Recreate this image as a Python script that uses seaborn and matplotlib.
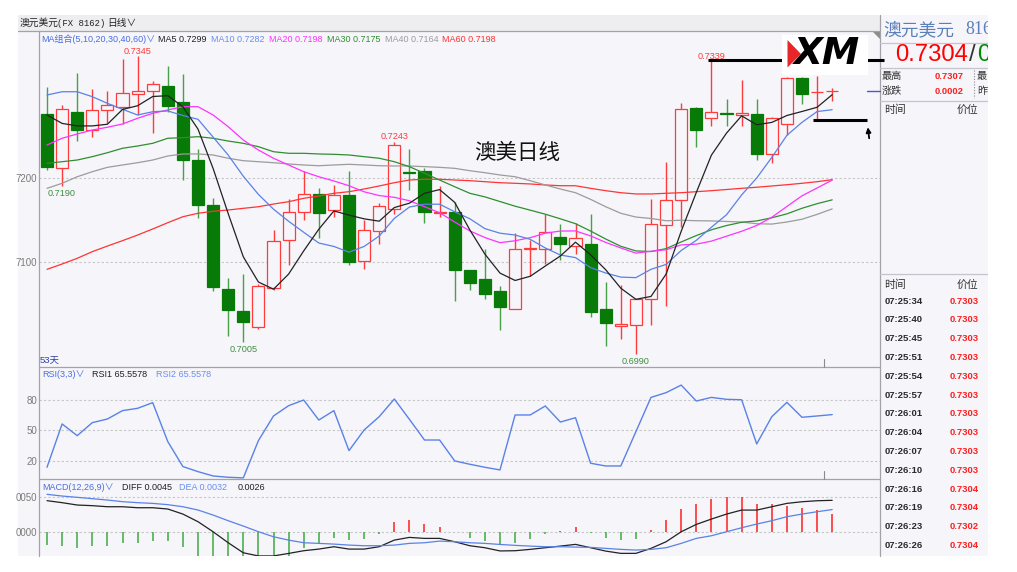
import numpy as np
import pandas as pd
import matplotlib
matplotlib.use("Agg")
import matplotlib.pyplot as plt
from matplotlib.patches import Rectangle, Polygon
import seaborn as sns

# daily AUD/USD candles (53 bars)
opens = [0.7276, 0.7212, 0.7279, 0.7257, 0.7281, 0.7284, 0.7300, 0.7304, 0.7309, 0.7290,
         0.7221, 0.7168, 0.7068, 0.7042, 0.7023, 0.7069, 0.7126, 0.7159, 0.7181, 0.7162,
         0.7180, 0.7101, 0.7137, 0.7163, 0.7207, 0.7208, 0.7158, 0.7160, 0.7090, 0.7080,
         0.7065, 0.7044, 0.7116, 0.7115, 0.7130, 0.7119, 0.7121, 0.7044, 0.7024, 0.7025,
         0.7056, 0.7144, 0.7174, 0.7283, 0.7271, 0.7277, 0.7275, 0.7276, 0.7229, 0.7264,
         0.7319, 0.7302, 0.7303]
highs = [0.7308, 0.7287, 0.7325, 0.7306, 0.7303, 0.7342, 0.7345, 0.7315, 0.7333, 0.7324,
         0.7234, 0.7176, 0.7081, 0.7086, 0.7074, 0.7138, 0.7175, 0.7208, 0.7188, 0.7192,
         0.7208, 0.7150, 0.7170, 0.7243, 0.7235, 0.7212, 0.7190, 0.7171, 0.7090, 0.7115,
         0.7072, 0.7135, 0.7126, 0.7157, 0.7145, 0.7146, 0.7157, 0.7076, 0.7073, 0.7056,
         0.7175, 0.7219, 0.7289, 0.7284, 0.7339, 0.7294, 0.7317, 0.7294, 0.7273, 0.7320,
         0.7320, 0.7321, 0.7307]
lows = [0.7209, 0.7190, 0.7244, 0.7249, 0.7265, 0.7264, 0.7275, 0.7253, 0.7279, 0.7198,
        0.7152, 0.7066, 0.7012, 0.7005, 0.7020, 0.7067, 0.7096, 0.7150, 0.7129, 0.7153,
        0.7096, 0.7092, 0.7121, 0.7157, 0.7186, 0.7147, 0.7153, 0.7054, 0.7067, 0.7056,
        0.7019, 0.7044, 0.7083, 0.7098, 0.7102, 0.7110, 0.7035, 0.7000, 0.7008, 0.6990,
        0.7025, 0.7048, 0.7142, 0.7237, 0.7262, 0.7262, 0.7262, 0.7222, 0.7218, 0.7251,
        0.7288, 0.7270, 0.7292]
closes = [0.7213, 0.7282, 0.7257, 0.7281, 0.7287, 0.7301, 0.7304, 0.7312, 0.7286, 0.7221,
          0.7168, 0.7070, 0.7043, 0.7029, 0.7071, 0.7125, 0.7160, 0.7181, 0.7158, 0.7180,
          0.7100, 0.7138, 0.7167, 0.7239, 0.7206, 0.7159, 0.7160, 0.7091, 0.7075, 0.7062,
          0.7046, 0.7116, 0.7116, 0.7136, 0.7122, 0.7128, 0.7041, 0.7027, 0.7026, 0.7056,
          0.7145, 0.7174, 0.7282, 0.7257, 0.7278, 0.7276, 0.7277, 0.7229, 0.7271, 0.7319,
          0.7300, 0.7302, 0.7304]

# moving-average values at the start of the window (history before bar 1 is off screen)
ma5_head = [0.7275, 0.7265, 0.7262, 0.7262]
ma10_head = [0.72988, 0.73027, 0.73027, 0.72968, 0.72889, 0.72818, 0.7275, 0.72789, 0.72798]
ma20_head = [0.72393, 0.72473, 0.72524, 0.72571, 0.72604, 0.72643, 0.72711, 0.7277, 0.7281,
             0.72849, 0.72849, 0.7275, 0.72611, 0.72452, 0.72333, 0.72235, 0.72155, 0.72075,
             0.72015]
ma30_head = [0.72175, 0.72194, 0.72214, 0.72254, 0.72301, 0.72354, 0.72381, 0.72413, 0.72473,
             0.7248, 0.72492, 0.72473, 0.7244, 0.72413, 0.72373, 0.72313, 0.72294, 0.72294,
             0.72286, 0.72282, 0.72274, 0.72254, 0.72235, 0.72194, 0.72135, 0.72056, 0.71976,
             0.71896, 0.71818]
ma40_head = [0.71877, 0.71937, 0.72015, 0.72075, 0.72127, 0.72155, 0.72182, 0.72214, 0.72262,
             0.72286, 0.72286, 0.72274, 0.72235, 0.72206, 0.72194, 0.72182, 0.72167, 0.72155,
             0.72146, 0.72155, 0.72163, 0.72155, 0.72146, 0.72143, 0.72143, 0.72135, 0.72127,
             0.72115, 0.72087, 0.72063, 0.72036, 0.72015, 0.71968, 0.71917, 0.71869, 0.71825,
             0.71746, 0.71658, 0.7158]
ma60 = [0.70913, 0.70976, 0.71044, 0.71123, 0.7119, 0.71254, 0.71321, 0.71393, 0.71468, 0.71539,
        0.7158, 0.71604, 0.71619, 0.71639, 0.71658, 0.7169, 0.71718, 0.71758, 0.71786, 0.71818,
        0.71837, 0.71869, 0.71905, 0.71944, 0.71976, 0.71985, 0.71985, 0.71976, 0.71968, 0.71956,
        0.71944, 0.71937, 0.71929, 0.71917, 0.71908, 0.71908, 0.71877, 0.71849, 0.71825, 0.7181,
        0.7181, 0.71818, 0.71825, 0.71837, 0.71849, 0.71863, 0.71877, 0.7189, 0.71905, 0.7192,
        0.71937, 0.71956, 0.7198]

rsi = [13.4, 56.3, 44.7, 57.6, 61.2, 69.5, 71.8, 77.4, 38.8, 14.1,
       9.1, 4.8, 3.5, 2.9, 39.8, 64.2, 74.4, 80.0, 60.2, 69.5,
       29.9, 50.3, 63.5, 81.0, 60.9, 40.4, 40.4, 19.7, 16.4, 13.4,
       10.8, 65.2, 65.2, 74.1, 58.2, 62.5, 17.4, 14.7, 14.7, 48.7,
       82.6, 87.3, 94.8, 79.0, 82.6, 80.7, 80.3, 36.5, 63.5, 77.7,
       62.9, 64.2, 65.56]
diff = [0.00445, 0.00417, 0.00384, 0.00375, 0.0036, 0.0036, 0.00346, 0.00346, 0.00328, 0.00257,
        0.0015, 0.00009, -0.00145, -0.00286, -0.0033, -0.0033, -0.00295, -0.00257, -0.00234, -0.00201,
        -0.00234, -0.00234, -0.00201, -0.00108, -0.0007, -0.00084, -0.00084, -0.00131, -0.00187, -0.00215,
        -0.0026, -0.00257, -0.00238, -0.00215, -0.00192, -0.00168, -0.00215, -0.00262, -0.00294, -0.00294,
        -0.00224, -0.00131, 0.00009, 0.00112, 0.00187, 0.00257, 0.00313, 0.00313, 0.0036, 0.00407,
        0.0043, 0.00444, 0.0045]
dea = [0.00534, 0.0051, 0.00492, 0.00473, 0.00454, 0.00431, 0.00417, 0.00407, 0.00389, 0.0036,
       0.00314, 0.00243, 0.00164, 0.00089, 0.0001, -0.00061, -0.00108, -0.00145, -0.00154, -0.00164,
       -0.00178, -0.00187, -0.00187, -0.00178, -0.00154, -0.00145, -0.00122, -0.00131, -0.00145, -0.00154,
       -0.00169, -0.00182, -0.00192, -0.00201, -0.00201, -0.00206, -0.0021, -0.00224, -0.00238, -0.00248,
       -0.00238, -0.00215, -0.00154, -0.00084, -0.00047, 0.00009, 0.00065, 0.00117, 0.00164, 0.0022,
       0.00257, 0.0029, 0.0032]

# tick list in the side panel
tick_times = ['07:25:34', '07:25:40', '07:25:45', '07:25:51', '07:25:54', '07:25:57', '07:26:01',
              '07:26:04', '07:26:07', '07:26:10', '07:26:16', '07:26:19', '07:26:23', '07:26:26']
tick_prices = [0.7303, 0.7303, 0.7303, 0.7303, 0.7303, 0.7303, 0.7303,
               0.7303, 0.7303, 0.7303, 0.7304, 0.7304, 0.7302, 0.7304]

# bars whose high/low gets a price tag
marked = [(7, 'high'), (2, 'low'), (14, 'low'), (24, 'high'), (40, 'low'), (45, 'high')]

df = pd.DataFrame({'bar': np.arange(1, len(closes) + 1), 'open': opens, 'high': highs,
                   'low': lows, 'close': closes, 'rsi': rsi, 'diff': diff, 'dea': dea})


def moving_avg(n, head):
    m = df['close'].rolling(n).mean()
    m.iloc[:len(head)] = head
    return m


df['ma5'] = moving_avg(5, ma5_head)
df['ma10'] = moving_avg(10, ma10_head)
df['ma20'] = moving_avg(20, ma20_head)
df['ma30'] = moving_avg(30, ma30_head)
df['ma40'] = moving_avg(40, ma40_head)
df['ma60'] = ma60
df['hist'] = 2 * (df['diff'] - df['dea'])

sns.set_style("white")
plt.rcParams['font.family'] = ['Liberation Sans', 'Noto Sans CJK SC', 'DejaVu Sans']
plt.rcParams['axes.unicode_minus'] = False

W, H = 1017, 572
BG = '#f5f5fa'
RED = '#ff3b3b'
GREEN_BODY = '#087a08'
GREEN_WICK = '#48a048'
GREEN_TXT = '#3f8f3f'
BLUE = '#5a82e6'
CJK = ['Noto Sans CJK SC', 'DejaVu Sans']


def box(x0, y0, x1, y1):
    return [x0 / W, 1 - y1 / H, (x1 - x0) / W, (y1 - y0) / H]


fig = plt.figure(figsize=(W / 100, H / 100), dpi=100, facecolor='white')

# screenshot background
bg = fig.add_axes([0, 0, 1, 1], zorder=-5)
bg.set_xlim(0, W)
bg.set_ylim(H, 0)
bg.axis('off')
bg.add_patch(Rectangle((18, 15), 970, 541, color=BG, lw=0))
bg.add_patch(Rectangle((18, 15), 862, 16, color='#eeeef0', lw=0))

XMIN = 1 - 8 / 15.1
XMAX = 1 + 833 / 15.1

ax = fig.add_axes(box(39, 31, 880, 367), zorder=1)
ax_rsi = fig.add_axes(box(39, 367, 880, 479), zorder=1)
ax_macd = fig.add_axes(box(39, 479, 880, 556), zorder=1)

# candles
up = (df['close'] >= df['open']).values
ax.vlines(df['bar'], df['low'], df['high'], colors=np.where(up, RED, GREEN_WICK), lw=1, zorder=2)
body_lo = df[['open', 'close']].min(axis=1)
body_h = (df['close'] - df['open']).abs().clip(lower=0.00003)
ax.bar(df['bar'], body_h, bottom=body_lo, width=0.8,
       color=list(np.where(up, BG, GREEN_BODY)), edgecolor=list(np.where(up, RED, GREEN_BODY)),
       lw=0.9, zorder=3)

ma_styles = [('ma60', '#ff3434'), ('ma40', '#9c9c9c'), ('ma30', '#2f8f2f'),
             ('ma20', '#ff33ff'), ('ma10', BLUE), ('ma5', '#222222')]
for col, c in ma_styles:
    sns.lineplot(data=df, x='bar', y=col, ax=ax, color=c, lw=0.9, zorder=4,
                 estimator=None, legend=False)

for b, kind in marked:
    v = df.loc[b - 1, kind]
    if kind == 'high':
        ax.annotate(f'{v:.4f}', (b, v), xytext=(0, 0.5), textcoords='offset points',
                    ha='center', va='bottom', fontsize=6.6, color=RED, zorder=6)
    else:
        ax.annotate(f'{v:.4f}', (b, v), xytext=(0, -2), textcoords='offset points',
                    ha='center', va='top', fontsize=6.6, color=GREEN_TXT, zorder=6)

# RSI
sns.lineplot(data=df, x='bar', y='rsi', ax=ax_rsi, color=BLUE, lw=1, estimator=None, legend=False)

# MACD
ax_macd.vlines(df['bar'], 0, df['hist'], colors=np.where(df['hist'] >= 0, '#ff3030', '#4caf50'),
               lw=1.2, zorder=2)
sns.lineplot(data=df, x='bar', y='diff', ax=ax_macd, color='#222222', lw=0.9, estimator=None,
             legend=False, zorder=3)
sns.lineplot(data=df, x='bar', y='dea', ax=ax_macd, color=BLUE, lw=0.9, estimator=None,
             legend=False, zorder=3)

panels = [(ax, (0.6975, 0.7375), [0.71, 0.72]),
          (ax_rsi, (1.8, 112.7), [20, 50, 80]),
          (ax_macd, (-0.00331, 0.00749), [0.0, 0.005])]
for a, ylim, ticks in panels:
    a.set_facecolor('none')
    for s in a.spines.values():
        s.set_visible(False)
    a.set_xlim(XMIN, XMAX)
    a.set_ylim(*ylim)
    a.set_xticks([])
    a.set_yticks(ticks)
    a.set_xlabel('')
    a.set_ylabel('')
    a.tick_params(axis='y', length=0, pad=1.5, labelsize=7, labelcolor='#7c7c7c')
    a.grid(axis='y', color='#c6c6c6', ls=(0, (2, 2)), lw=0.8)
    a.grid(axis='x', visible=False)
ax.set_yticklabels([f'{t:.4f}'[2:] for t in [0.71, 0.72]])
ax_rsi.set_yticklabels(['20', '50', '80'])
ax_macd.set_yticklabels([f'{t:.4f}'[2:] for t in [0.0, 0.005]])

# overlay in pixel coordinates
ov = fig.add_axes([0, 0, 1, 1], zorder=10)
ov.set_xlim(0, W)
ov.set_ylim(H, 0)
ov.axis('off')
ov.patch.set_alpha(0)

frame = '#a2a2a8'
ov.plot([39, 39], [31, 556], color=frame, lw=0.9)
ov.plot([18, 880], [31, 31], color=frame, lw=0.9)
ov.plot([39, 880], [367, 367], color=frame, lw=0.9)
ov.plot([39, 880], [479, 479], color=frame, lw=0.9)
ov.plot([880, 880], [15, 556], color=frame, lw=0.9)
ov.plot([824, 824], [359, 367], color='#8a8a8a', lw=0.8)
ov.plot([824, 824], [471, 479], color='#8a8a8a', lw=0.8)
ov.add_patch(Polygon([(872.5, 31.5), (880, 31.5), (880, 39)], color='#8c8c8c', lw=0))

# title row and indicator headers
ov.text(20, 23, '澳元美元', fontsize=7, color='#222', va='center', family=CJK)
ov.text(57, 23, '(FX 8162)', fontsize=6.4, color='#222', va='center', family='Liberation Mono')
ov.text(107, 23, '日线∨', fontsize=7, color='#222', va='center', family=CJK)

hdr = [(41, 'MA组合(5,10,20,30,40,60)∨', '#4a6fe0'), (158, 'MA5 0.7299', '#222222'),
       (211, 'MA10 0.7282', '#6a8ff0'), (269, 'MA20 0.7198', '#ff33ff'),
       (327, 'MA30 0.7175', '#2f8f2f'), (385, 'MA40 0.7164', '#9c9c9c'),
       (442, 'MA60 0.7198', '#ff3434')]
for x, s, c in hdr:
    ov.text(x, 39.5, s, fontsize=6.5, color=c, va='center')
for x, s, c in [(42, 'RSI(3,3)∨', '#4a6fe0'), (92, 'RSI1 65.5578', '#222222'),
                (155.5, 'RSI2 65.5578', '#6a8ff0')]:
    ov.text(x, 374.5, s, fontsize=6.5, color=c, va='center')
for x, s, c in [(42, 'MACD(12,26,9)∨', '#4a6fe0'), (122, 'DIFF 0.0045', '#222222'),
                (179, 'DEA 0.0032', '#6a8ff0'), (238, '0.0026', '#222222')]:
    ov.text(x, 487, s, fontsize=6.5, color=c, va='center')

ov.text(40, 360, '53天', fontsize=6.8, color='#3343a8', va='center')
ov.text(517, 153, '澳美日线', fontsize=15.5, color='#111', ha='center', va='center', family=CJK)

# hand-drawn marks and logo
ov.plot([708, 884], [60, 60], color='black', lw=2.2, solid_capstyle='butt')
ov.plot([813, 867], [120, 120], color='black', lw=2.2, solid_capstyle='butt')
ov.plot([867, 880], [91, 91], color='#4a5ac8', lw=1)
ov.annotate('', xy=(867.5, 124.5), xytext=(869.5, 141),
            arrowprops=dict(arrowstyle='-|>', color='black', lw=1.3, mutation_scale=7))
ov.add_patch(Rectangle((782, 35), 86, 40, color='white', lw=0, zorder=5))
ov.add_patch(Polygon([(787.5, 40), (801, 54), (787.5, 67.5)], color='#e8262a', lw=0, zorder=6))
ov.text(827, 53.5, 'XM', fontsize=27, fontweight='heavy', fontstyle='italic', color='black',
        ha='center', va='center', family='DejaVu Sans', zorder=7)

# side quote panel
rp = fig.add_axes(box(880, 15, 988, 556), zorder=11)
rp.set_xlim(880, 988)
rp.set_ylim(556, 15)
rp.axis('off')
rp.patch.set_alpha(0)
T = dict(clip_on=True, va='center')
rp.text(883, 30, '澳元美元', fontsize=12.8, color='#5b7fb8', family=CJK, **T)
rp.text(965, 30, '8162', fontsize=13, color='#5b7fb8', family='Liberation Serif', **T)
rp.text(895, 55, '0.7304', fontsize=17.2, color='#ff0000', **T)
rp.text(969, 55, '/', fontsize=17.2, color='#333333', **T)
rp.text(977.5, 55, '0', fontsize=17.2, color='#008a00', **T)
sep = '#c4c4cc'
for y in (43, 67.5, 101, 274):
    rp.plot([880, 988], [y, y], color=sep, lw=0.9, clip_on=True)
rp.plot([973.5, 973.5], [70, 98], color='#8c8c8c', lw=0.8, ls=(0, (1, 1.5)))
for y, a, v, b in [(76.5, '最高', '0.7307', '最'), (91, '涨跌', '0.0002', '昨')]:
    rp.text(882, y, a, fontsize=7.3, color='#333333', family=CJK, **T)
    rp.text(964, y, v, fontsize=6.8, color='#ff2020', fontweight='bold', ha='right', **T)
    rp.text(977, y, b, fontsize=7.3, color='#333333', family=CJK, **T)
for y in (110, 284.5):
    rp.text(884, y, '时间', fontsize=7.8, color='#333333', family=CJK, **T)
    rp.text(978.5, y, '价位', fontsize=7.8, color='#333333', family=CJK, ha='right', **T)
for i, (t, p) in enumerate(zip(tick_times, tick_prices)):
    y = 301 + i * 18.8
    rp.text(885, y, t, fontsize=6.8, color='#2a2a2a', fontweight='bold', **T)
    rp.text(979, y, f'{p:.4f}', fontsize=6.8, color='#ff2020', fontweight='bold', ha='right', **T)

fig.savefig('out.png', dpi=100, facecolor='white')
